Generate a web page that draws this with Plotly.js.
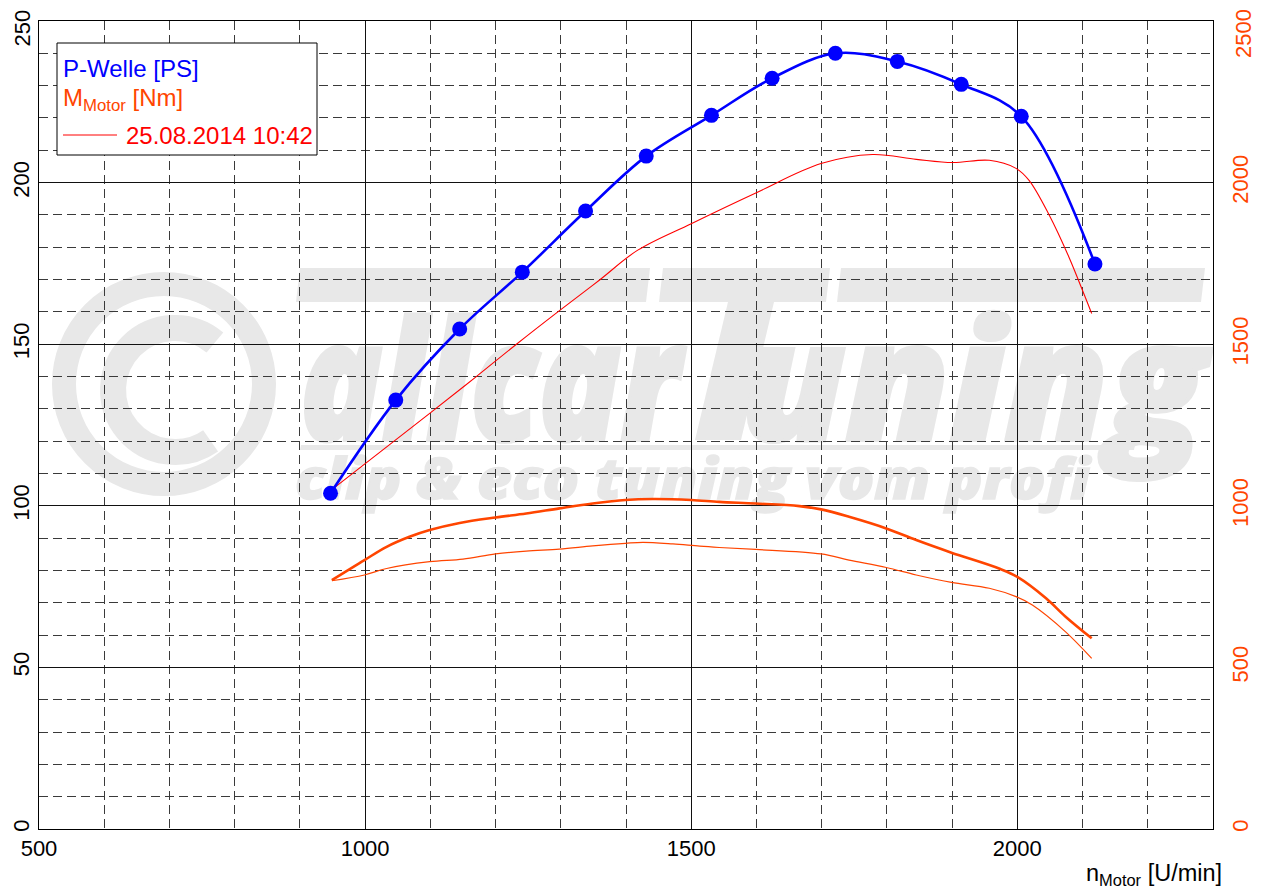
<!DOCTYPE html>
<html><head><meta charset="utf-8">
<script src="https://cdn.plot.ly/plotly-3.0.1.min.js"></script>
<style>html,body{margin:0;padding:0;background:#fff}#chart{width:1266px;height:890px}</style>
</head><body><div id="chart"></div>
<script>
// ---- data ----
const blueRpm = [947, 1047, 1145, 1241, 1338, 1431, 1531, 1624, 1721, 1816, 1914, 2006, 2119];
const bluePS  = [103.9, 132.7, 154.7, 172.3, 191.2, 208.2, 220.8, 232.3, 240.0, 237.5, 230.4, 220.5, 174.8];

const redRpm = [949, 1099, 1170, 1232, 1298, 1359, 1418, 1500, 1599, 1699, 1778, 1845, 1901, 1957, 1998, 2018, 2049, 2079, 2104, 2114];
const redPS  = [105, 128.6, 139.9, 150.0, 160.4, 169.8, 179.1, 187.3, 196.8, 205.9, 208.7, 207.2, 206.2, 206.9, 204.4, 200.7, 189.9, 177.0, 164.6, 159.5];

const thickRpm = [949, 999, 1033, 1068, 1099, 1145, 1200, 1247, 1298, 1349, 1399, 1441, 1500, 1543, 1599, 1666, 1699, 1742, 1799, 1845, 1899, 1972, 2000, 2044, 2074, 2114];
const thickNm  = [770, 832, 873, 904, 925, 947, 964, 976, 992, 1007, 1018, 1021, 1018, 1012, 1007, 999, 989, 966, 930, 894, 855, 806, 780, 714, 657, 590];

const thinRpm = [949, 999, 1033, 1099, 1150, 1200, 1247, 1298, 1349, 1399, 1426, 1472, 1513, 1543, 1599, 1699, 1742, 1799, 1845, 1899, 1957, 1998, 2023, 2074, 2114];
const thinNm  = [768, 786, 806, 827, 835, 851, 860, 866, 876, 884, 887, 882, 875, 871, 865, 851, 832, 809, 786, 763, 745, 719, 693, 610, 528];

const psTicks = [0, 50, 100, 150, 200];
const nmTicks = [0, 500, 1000, 1500, 2000];
const psTop = '250', nmTop = '2500';
const legendLabels = ['P-Welle [PS]', 'M<sub>Motor</sub> [Nm]', '25.08.2014 10:42'];
const xTitle = 'n<sub>Motor</sub> [U/min]';

// ---- layout helpers ----
const W = 1266, H = 890, ML = 39, MR = 53, MT = 21, MB = 61;
const PW = W - ML - MR, PH = H - MT - MB;
const px = x => (x - ML) / PW;
const py = y => (H - MB - y) / PH;

const BLUE = '#0000FF', ORANGE = '#FF4500', RED = '#FF0000';
const FONT = '"Liberation Sans", Arial, Helvetica, sans-serif';

// watermark svg (plot-area local coords)
const G = '#e8e8e8';
const WF = 'font-family="Open Sans, sans-serif" font-weight="900" font-style="italic"';
const wm = `<svg xmlns="http://www.w3.org/2000/svg" width="${PW}" height="${PH}" viewBox="0 0 ${PW} ${PH}">
<circle cx="125" cy="363" r="100" fill="none" stroke="${G}" stroke-width="24"/>
<path d="M175.9,321.5 A62,62 0 1,0 171.6,419.8" fill="none" stroke="${G}" stroke-width="26"/>
<polygon points="261,247 611,247 607,281 257,281" fill="${G}"/>
<polygon points="624,247 791,247 787,281 620,281" fill="${G}"/>
<polygon points="802,247 1166,247 1162,281 798,281" fill="${G}"/>
<polygon points="689,281 735,281 702,419 656,419" fill="${G}"/>
<polygon points="262,424 1096,424 1095,429 261,429" fill="${G}"/>
<text x="261" y="419" ${WF} font-size="165" fill="${G}" stroke="${G}" stroke-width="4" textLength="380" lengthAdjust="spacingAndGlyphs">allcar</text>
<text x="702" y="419" ${WF} font-size="165" fill="${G}" stroke="${G}" stroke-width="4" textLength="464" lengthAdjust="spacingAndGlyphs">uning</text>
<text x="256" y="478" ${WF} font-size="56" fill="${G}" stroke="${G}" stroke-width="1.5" textLength="795" lengthAdjust="spacingAndGlyphs">clip &amp; eco tuning vom profi</text>
</svg>`;
const wmSrc = 'data:image/svg+xml;charset=utf-8,' + encodeURIComponent(wm);

const traces = [
  {x: thinRpm, y: thinNm, yaxis: 'y2', mode: 'lines', line: {color: ORANGE, width: 1.2, shape: 'spline'}, hoverinfo: 'skip'},
  {x: thickRpm, y: thickNm, yaxis: 'y2', mode: 'lines', line: {color: ORANGE, width: 2.6, shape: 'spline'}, hoverinfo: 'skip'},
  {x: redRpm, y: redPS, mode: 'lines', line: {color: RED, width: 1.1, shape: 'spline'}, hoverinfo: 'skip'},
  {x: blueRpm, y: bluePS, mode: 'lines+markers', line: {color: BLUE, width: 2.6, shape: 'spline'}, marker: {color: BLUE, size: 15}, hoverinfo: 'skip'}
];

const gridMinor = (dt) => ({dtick: dt, showgrid: true, griddash: '9px,5px', gridcolor: '#3a3a3a', gridwidth: 1, ticks: ''});

const layout = {
  width: W, height: H,
  margin: {l: ML, r: MR, t: MT, b: MB, pad: 0},
  paper_bgcolor: '#ffffff', plot_bgcolor: 'rgba(0,0,0,0)',
  showlegend: false,
  font: {family: FONT, size: 22, color: '#000'},
  xaxis: {
    range: [500, 2300], tick0: 500, dtick: 500, showgrid: true, gridcolor: '#111', gridwidth: 1,
    minor: gridMinor(100), zeroline: false, showline: true, linecolor: '#000', linewidth: 1, mirror: true,
    ticks: '', tickfont: {size: 22, color: '#000'}, fixedrange: true
  },
  yaxis: {
    range: [0, 250], tickmode: 'array', tickvals: psTicks, showgrid: true, gridcolor: '#111', gridwidth: 1,
    minor: gridMinor(10), zeroline: false, showline: true, linecolor: '#000', linewidth: 1, mirror: true,
    ticks: '', tickangle: -90, tickfont: {size: 22, color: '#000'}, fixedrange: true
  },
  yaxis2: {
    range: [0, 2500], tickmode: 'array', tickvals: nmTicks, overlaying: 'y', side: 'right', showgrid: false,
    zeroline: false, showline: false, ticks: '', tickangle: -90, ticklabelstandoff: 12,
    tickfont: {size: 22, color: ORANGE}, fixedrange: true
  },
  images: [{source: wmSrc, xref: 'paper', yref: 'paper', x: 0, y: 1, sizex: 1, sizey: 1,
            xanchor: 'left', yanchor: 'top', sizing: 'stretch', layer: 'below'}],
  shapes: [
    {type: 'rect', xref: 'paper', yref: 'paper', x0: px(57), x1: px(317), y0: py(155), y1: py(43),
     fillcolor: '#fff', line: {color: '#000', width: 1}, layer: 'above'},
    {type: 'line', xref: 'paper', yref: 'paper', x0: px(63), x1: px(117), y0: py(135), y1: py(135),
     line: {color: RED, width: 1}, layer: 'above'}
  ],
  annotations: [
    {xref: 'paper', yref: 'paper', x: px(61), y: py(68), xanchor: 'left', yanchor: 'middle', showarrow: false,
     text: legendLabels[0], font: {family: FONT, size: 24, color: BLUE}},
    {xref: 'paper', yref: 'paper', x: px(61), y: py(100), xanchor: 'left', yanchor: 'middle', showarrow: false,
     text: legendLabels[1], font: {family: FONT, size: 24, color: ORANGE}},
    {xref: 'paper', yref: 'paper', x: px(124), y: py(135), xanchor: 'left', yanchor: 'middle', showarrow: false,
     text: legendLabels[2], font: {family: FONT, size: 24, color: RED}},
    {xref: 'paper', yref: 'paper', x: px(1224), y: py(874), xanchor: 'right', yanchor: 'middle', showarrow: false,
     text: xTitle, font: {family: FONT, size: 23.5, color: '#000'}},
    {xref: 'paper', yref: 'paper', x: px(22), y: py(28.5), xanchor: 'center', yanchor: 'middle', showarrow: false,
     textangle: -90, text: psTop, font: {family: FONT, size: 22, color: '#000'}},
    {xref: 'paper', yref: 'paper', x: px(1243), y: py(34), xanchor: 'center', yanchor: 'middle', showarrow: false,
     textangle: -90, text: nmTop, font: {family: FONT, size: 22, color: ORANGE}}
  ]
};

Plotly.newPlot('chart', traces, layout, {staticPlot: true, displayModeBar: false});
</script></body></html>
